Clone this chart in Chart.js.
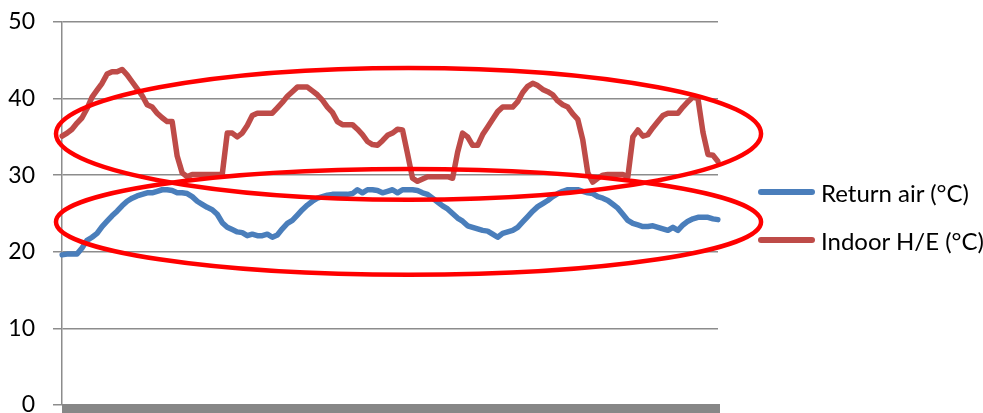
<!DOCTYPE html>
<html>
<head>
<meta charset="utf-8">
<script src="https://cdn.jsdelivr.net/npm/chart.js@4"></script>
<style>
  html, body { margin: 0; padding: 0; background: #fff; }
  #wrap { position: relative; width: 983px; height: 413px; overflow: hidden; }
  #legend {
    position: absolute; left: 758px; top: 168px; white-space: nowrap;
    font-family: Lato, sans-serif; font-size: 24px; line-height: 29px; color: #000;
  }
  #legend .item { display: flex; align-items: center; height: 48px; }
  #legend .swatch { flex: none; width: 57px; height: 6px; border-radius: 3px; margin-right: 6px; }
</style>
</head>
<body>
<div id="wrap">
  <canvas id="tempChart"></canvas>
  <div id="legend"></div>
</div>
<script>
// readings, one every sample step
const returnAir = [
  19.6, 19.7, 19.7, 19.7, 20.5, 21.5, 21.9, 22.4, 23.3, 24.0, 24.7, 25.3,
  26.0, 26.6, 27.0, 27.3, 27.5, 27.7, 27.7, 27.9, 28.1, 28.1, 28.0, 27.7,
  27.7, 27.6, 27.2, 26.6, 26.2, 25.8, 25.5, 24.9, 23.8, 23.2, 22.9, 22.6,
  22.5, 22.1, 22.3, 22.1, 22.1, 22.3, 21.9, 22.2, 23.0, 23.7, 24.1, 24.8,
  25.5, 26.1, 26.6, 27.0, 27.2, 27.4, 27.5, 27.5, 27.5, 27.5, 27.6, 28.1,
  27.7, 28.1, 28.1, 28.0, 27.7, 27.9, 28.1, 27.7, 28.1, 28.1, 28.1, 28.0,
  27.7, 27.5, 27.0, 26.5, 26.0, 25.6, 25.0, 24.4, 24.0, 23.4, 23.2, 23.0,
  22.8, 22.7, 22.3, 21.9, 22.4, 22.6, 22.8, 23.2, 23.9, 24.6, 25.3, 25.9,
  26.3, 26.7, 27.2, 27.6, 27.9, 28.1, 28.1, 28.1, 27.9, 27.7, 27.6, 27.2,
  27.0, 26.7, 26.2, 25.7, 24.9, 24.1, 23.7, 23.5, 23.3, 23.3, 23.4, 23.2,
  23.0, 22.8, 23.2, 22.8, 23.5, 24.0, 24.3, 24.5, 24.5, 24.5, 24.3, 24.2
];
const indoorHE = [
  35.1, 35.5, 36.0, 36.8, 37.5, 38.7, 40.2, 41.1, 42.0, 43.2, 43.5, 43.5,
  43.8, 43.1, 42.2, 41.3, 40.4, 39.2, 38.9, 38.1, 37.5, 37.0, 37.0, 32.5,
  30.3, 29.8, 30.1, 30.1, 30.1, 30.1, 30.1, 30.1, 30.1, 35.5, 35.5, 35.0,
  35.5, 36.5, 37.8, 38.1, 38.1, 38.1, 38.1, 38.8, 39.5, 40.3, 40.9, 41.5,
  41.5, 41.5, 41.0, 40.5, 39.8, 38.9, 38.2, 37.0, 36.6, 36.6, 36.6, 36.0,
  35.3, 34.4, 34.0, 33.9, 34.5, 35.2, 35.5, 36.0, 35.9, 32.8, 29.6, 29.2,
  29.5, 29.8, 29.8, 29.8, 29.8, 29.8, 29.6, 33.0, 35.5, 35.0, 33.9, 33.9,
  35.3, 36.3, 37.3, 38.3, 38.9, 38.9, 38.9, 39.6, 40.8, 41.6, 42.0, 41.7,
  41.2, 40.9, 40.5, 39.7, 39.2, 38.9, 38.0, 37.3, 34.6, 30.3, 29.1, 29.6,
  30.0, 30.1, 30.1, 30.1, 30.1, 29.8, 35.0, 35.9, 35.1, 35.3, 36.2, 37.0,
  37.8, 38.1, 38.1, 38.1, 38.9, 39.6, 40.2, 40.0, 35.6, 32.7, 32.6, 31.8
];
const samples = returnAir.map((v, i) => String(i + 1));
const seriesNames = ["Return air (°C)", "Indoor H/E (°C)"];
const yTicks = [0, 10, 20, 30, 40, 50];

// highlight rings: centre (sample index, °C) and radii in the same units
const rings = [
  { cx: 69.2, cy: 35.4, rx: 70.4, ry: 8.6 },
  { cx: 69.2, cy: 23.9, rx: 70.4, ry: 6.9 }
];

const ringPlugin = {
  id: "rings",
  afterDatasetsDraw(chart) {
    const ctx = chart.ctx;
    const xs = chart.scales.x;
    const ys = chart.scales.y;
    ctx.save();
    ctx.strokeStyle = "#ff0000";
    ctx.lineWidth = 4.5;
    rings.forEach(r => {
      const px = xs.getPixelForValue(r.cx);
      const py = ys.getPixelForValue(r.cy);
      const prx = xs.getPixelForValue(r.cx + r.rx) - px;
      const pry = py - ys.getPixelForValue(r.cy + r.ry);
      ctx.beginPath();
      ctx.ellipse(px, py, prx, pry, 0, 0, Math.PI * 2);
      ctx.stroke();
    });
    ctx.restore();
  }
};

// heavy grey base line under the plot
const baseBar = {
  id: "baseBar",
  afterDraw(chart) {
    const a = chart.chartArea;
    const ctx = chart.ctx;
    ctx.save();
    ctx.fillStyle = "#878787";
    ctx.fillRect(a.left, a.bottom - 1, a.right - a.left + 2, 10);
    ctx.restore();
  }
};

const colors = ["#4a7ebb", "#be4b48"];

const chart = new Chart(document.getElementById("tempChart"), {
  type: "line",
  data: {
    labels: samples,
    datasets: [returnAir, indoorHE].map((d, i) => ({
      label: seriesNames[i],
      data: d,
      borderColor: colors[i],
      backgroundColor: colors[i],
      borderWidth: 5.5,
      borderJoinStyle: "round",
      borderCapStyle: "round",
      pointRadius: 0,
      tension: 0
    }))
  },
  plugins: [ringPlugin, baseBar],
  options: {
    responsive: true,
    maintainAspectRatio: false,
    animation: false,
    layout: { padding: { top: 22, bottom: 8, right: 265, left: 0 } },
    plugins: {
      tooltip: { enabled: false },
      legend: { display: false }
    },
    scales: {
      x: {
        display: false,
        offset: false
      },
      y: {
        min: 0,
        max: 50,
        afterBuildTicks(scale) {
          scale.ticks = yTicks.map(v => ({ value: v }));
        },
        afterFit(scale) {
          scale.width = 62;
          scale.paddingTop = 0;
          scale.paddingBottom = 0;
        },
        ticks: {
          padding: 18,
          color: "#000",
          font: { family: "Lato", size: 23 }
        },
        grid: {
          color: "#8c8c8c",
          lineWidth: 1.5,
          tickLength: 9
        },
        border: { color: "#8c8c8c", width: 1.5 }
      }
    }
  }
});

// legend beside the plot, built from the datasets
const legendBox = document.getElementById("legend");
chart.data.datasets.forEach(ds => {
  const item = document.createElement("div");
  item.className = "item";
  const sw = document.createElement("span");
  sw.className = "swatch";
  sw.style.background = ds.borderColor;
  const txt = document.createElement("span");
  txt.textContent = ds.label;
  item.appendChild(sw);
  item.appendChild(txt);
  legendBox.appendChild(item);
});
</script>
</body>
</html>
